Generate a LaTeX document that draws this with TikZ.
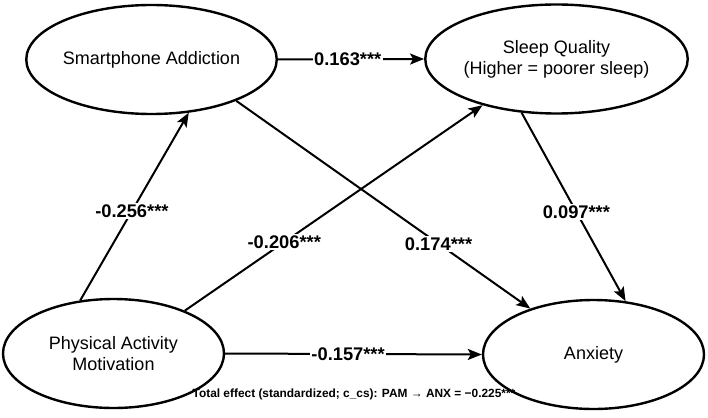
\documentclass[tikz,border=0pt]{standalone}
\usepackage{fontspec}
\setmainfont{Liberation Sans}
\usetikzlibrary{shapes.geometric,arrows.meta}
\begin{document}
\begin{tikzpicture}[x=1pt,y=-1pt,
  latent/.style={ellipse,draw,line width=2.4pt,minimum width=221pt,minimum height=109pt,inner sep=0pt,align=center,font=\fontsize{18}{21}\selectfont},
  arr/.style={line width=2pt,-{Stealth[length=14pt,width=11pt,inset=3pt]}},
  coef/.style={fill=white,inner sep=1.5pt,font=\fontsize{18.3}{21}\selectfont\bfseries},
  note/.style={inner sep=0pt,font=\fontsize{11.9}{13}\selectfont\bfseries}]
\useasboundingbox (0,0) rectangle (708,417);
\fill[white] (0,0) rectangle (708,417);
\node[latent] (sa) at (151.5,59.5) {Smartphone Addiction};
\node[latent] (sq) at (556.5,59) {Sleep Quality\\(Higher = poorer sleep)};
\node[latent] (pam) at (113.5,353.5) {Physical Activity\\Motivation};
\node[latent] (anx) at (593.5,354.5) {Anxiety};
\draw[arr] (sa.east) -- (sq.west) node[coef,pos=0.478] {0.163***};
\draw[arr] (pam.122) -- (sa.305) node[coef,pos=0.476] {-0.256***};
\draw[arr] (pam.31) -- (sq.212) node[coef,pos=0.334] {-0.206***};
\draw[arr] (sa.334) -- (anx.144) node[coef,pos=0.688] {0.174***};
\draw[arr] (sq.237) -- (anx.59) node[coef,pos=0.527] {0.097***};
\draw[arr] (pam.east) -- (anx.west) node[coef,pos=0.479] {-0.157***};
\node[note] (tot) at (354,394) {Total effect (standardized; c\_cs): PAM → ANX = −0.225***};
\end{tikzpicture}
\end{document}
